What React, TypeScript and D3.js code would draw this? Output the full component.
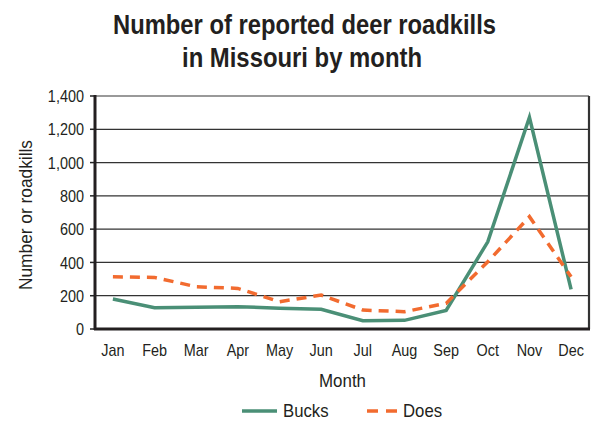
import React from "react";
import * as d3 from "d3";

const months = ["Jan", "Feb", "Mar", "Apr", "May", "Jun", "Jul", "Aug", "Sep", "Oct", "Nov", "Dec"];
const bucks = [180, 128, 130, 134, 125, 118, 50, 52, 112, 524, 1272, 238];
const does = [314, 310, 254, 244, 164, 204, 114, 104, 154, 404, 675, 314];
const yTicks = [0, 200, 400, 600, 800, 1000, 1200, 1400];

const W = 598, H = 421;
const L = 95, R = 589, T = 96, B = 329;
const FONT = "'Liberation Sans', Arial, sans-serif";
const GREEN = "#4a8f76";
const ORANGE = "#f26b2f";
const INK = "#231f20";

function NText(props: { x: number; y: number; sx: number; size: number; anchor?: string; dy?: string; children: React.ReactNode; weight?: string }) {
  return (
    <text
      transform={`translate(${props.x},${props.y}) scale(${props.sx},1)`}
      textAnchor={props.anchor || "middle"}
      dy={props.dy}
      fontSize={props.size}
      fontWeight={props.weight}
      fill={INK}
    >
      {props.children}
    </text>
  );
}

export default function App() {
  const x = d3.scalePoint<string>().domain(months).range([L, R]).padding(0.43);
  const y = d3.scaleLinear().domain([0, 1400]).range([B, T]);
  const line = d3.line<number>().x((_, i) => x(months[i]) as number).y((v) => y(v));
  const fmt = d3.format(",");
  return (
    <svg width={W} height={H} style={{ position: "absolute", left: 0, top: 0 }} fontFamily={FONT}>
      <rect width={W} height={H} fill="#fff" />
      <text x={113} y={34} fontSize={28} fontWeight="bold" fill={INK} textLength={383} lengthAdjust="spacingAndGlyphs">Number of reported deer roadkills</text>
      <text x={182} y={67} fontSize={28} fontWeight="bold" fill={INK} textLength={240} lengthAdjust="spacingAndGlyphs">in Missouri by month</text>
      {yTicks.map((t) => (
        <g key={t}>
          {t > 0 && <line x1={L} x2={R} y1={y(t)} y2={y(t)} stroke={t === 1400 ? "#777" : "#333"} strokeWidth={t === 1400 ? 1.5 : 1.3} />}
          <line x1={L - 5} x2={L} y1={y(t)} y2={y(t)} stroke="#222" strokeWidth={1.5} />
          <NText x={L - 11} y={y(t)} dy="0.36em" anchor="end" size={17} sx={0.85}>{fmt(t)}</NText>
        </g>
      ))}
      <line x1={R} x2={R} y1={T} y2={B} stroke="#333" strokeWidth={2.2} />
      <line x1={L} x2={L} y1={T - 1} y2={B + 1} stroke={INK} strokeWidth={3} />
      <line x1={L - 1} x2={R + 1} y1={B} y2={B} stroke={INK} strokeWidth={3} />
      {months.map((m) => (
        <NText key={m} x={x(m) as number} y={356} size={16} sx={0.9}>{m}</NText>
      ))}
      <text x={319} y={387} fontSize={19} fill={INK} textLength={47} lengthAdjust="spacingAndGlyphs">Month</text>
      <text transform={`translate(32,290) rotate(-90)`} fontSize={19} fill={INK} textLength={150} lengthAdjust="spacingAndGlyphs">Number or roadkills</text>
      <path d={line(bucks) || ""} fill="none" stroke={GREEN} strokeWidth={3.5} strokeLinejoin="miter" />
      <path d={line(does) || ""} fill="none" stroke={ORANGE} strokeWidth={3.5} strokeDasharray="10 7" />
      <line x1={242} x2={277} y1={411} y2={411} stroke={GREEN} strokeWidth={3.5} />
      <NText x={283} y={417} size={18} sx={0.93} anchor="start">Bucks</NText>
      <line x1={367} x2={397} y1={411} y2={411} stroke={ORANGE} strokeWidth={3.5} strokeDasharray="11 8" />
      <NText x={403} y={417} size={18} sx={0.93} anchor="start">Does</NText>
    </svg>
  );
}
